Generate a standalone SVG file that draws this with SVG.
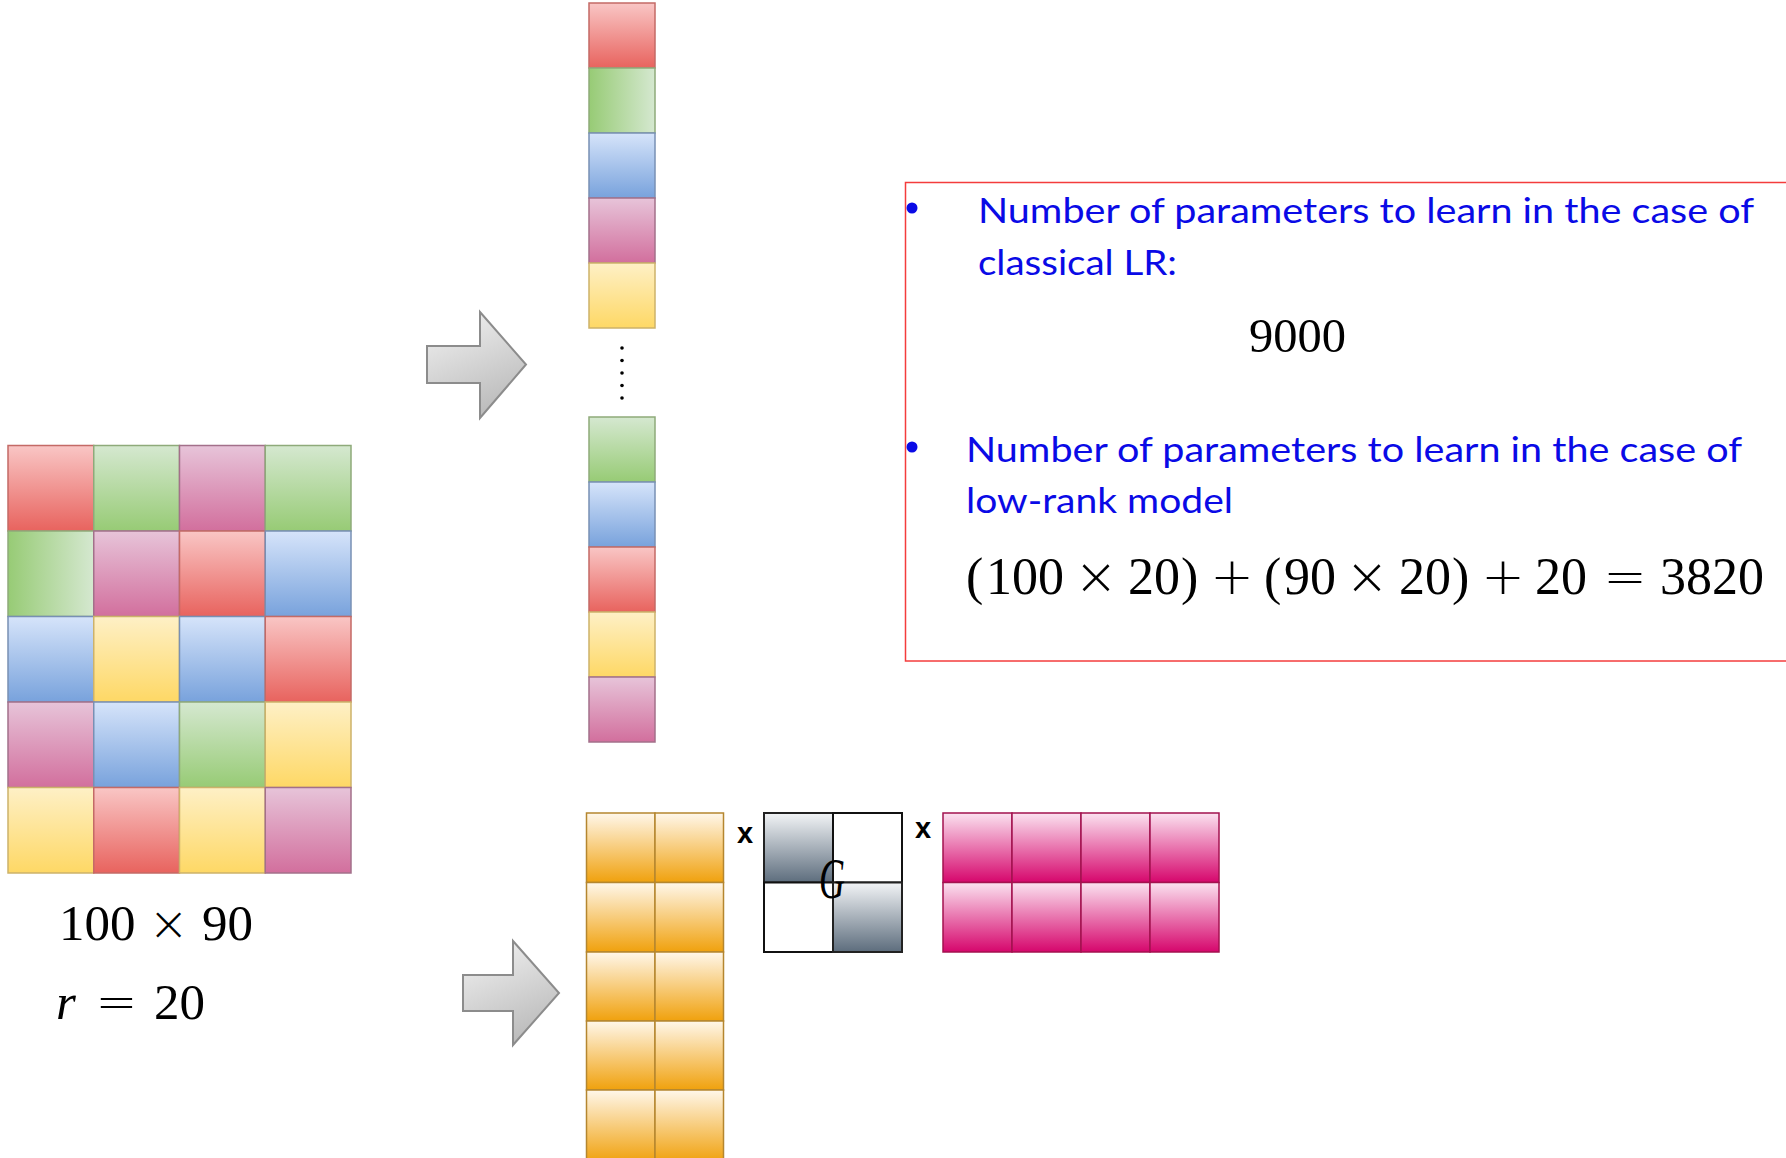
<svg xmlns="http://www.w3.org/2000/svg" width="1786" height="1158" viewBox="0 0 1786 1158">
<defs>
<linearGradient id="gRed" x1="0" y1="0" x2="0" y2="1"><stop offset="0" stop-color="#f9c6c5"/><stop offset="1" stop-color="#e8635e"/></linearGradient>
<linearGradient id="gGreen" x1="0" y1="0" x2="0" y2="1"><stop offset="0" stop-color="#d5e8d0"/><stop offset="1" stop-color="#97cb75"/></linearGradient>
<linearGradient id="gGreenH" x1="0" y1="0" x2="1" y2="0"><stop offset="0" stop-color="#97cb75"/><stop offset="1" stop-color="#d5e8d0"/></linearGradient>
<linearGradient id="gPink" x1="0" y1="0" x2="0" y2="1"><stop offset="0" stop-color="#e7c4d9"/><stop offset="1" stop-color="#d26f9d"/></linearGradient>
<linearGradient id="gBlue" x1="0" y1="0" x2="0" y2="1"><stop offset="0" stop-color="#d6e4fa"/><stop offset="1" stop-color="#78a2dc"/></linearGradient>
<linearGradient id="gYellow" x1="0" y1="0" x2="0" y2="1"><stop offset="0" stop-color="#fef0c6"/><stop offset="1" stop-color="#fed865"/></linearGradient>
<linearGradient id="gOrange" x1="0" y1="0" x2="0" y2="1"><stop offset="0" stop-color="#fff7ea"/><stop offset="1" stop-color="#f0a10d"/></linearGradient>
<linearGradient id="gMag" x1="0" y1="0" x2="0" y2="1"><stop offset="0" stop-color="#fbe2f0"/><stop offset="1" stop-color="#d6066c"/></linearGradient>
<linearGradient id="gGray" x1="0" y1="0" x2="0" y2="1"><stop offset="0" stop-color="#f2f4f6"/><stop offset="1" stop-color="#5d6d7d"/></linearGradient>
<linearGradient id="gArrow" x1="0" y1="0" x2="0.4" y2="1"><stop offset="0" stop-color="#f4f4f4"/><stop offset="1" stop-color="#bdbdbd"/></linearGradient>
</defs>
<style>
.red{fill:url(#gRed);stroke:#c46a66;stroke-width:1.5}
.green{fill:url(#gGreen);stroke:#8eaa7a;stroke-width:1.5}
.greenh{fill:url(#gGreenH);stroke:#8eaa7a;stroke-width:1.5}
.pink{fill:url(#gPink);stroke:#a3708a;stroke-width:1.5}
.blue{fill:url(#gBlue);stroke:#7890b4;stroke-width:1.5}
.yellow{fill:url(#gYellow);stroke:#cdb26a;stroke-width:1.5}
.orange{fill:url(#gOrange);stroke:#b5862f;stroke-width:1.5}
.mag{fill:url(#gMag);stroke:#a3124f;stroke-width:1.5}
.gray{fill:url(#gGray);stroke:#222;stroke-width:2}
.white{fill:#fff;stroke:#111;stroke-width:2}
.arrow{fill:url(#gArrow);stroke:#8c8c8c;stroke-width:2}
.math{font-family:"Liberation Serif","DejaVu Serif",serif;fill:#000}
.mop{font-family:"DejaVu Sans","Liberation Sans",sans-serif;font-weight:200;fill:#000}
.blue-t{font-family:Lato,"Open Sans",sans-serif;font-size:34px;fill:#0a0ae6}
.op{font-family:"Liberation Sans",Arial,sans-serif;font-weight:bold;font-size:29px;fill:#000}
</style>

<g id="matrix-grid">
<rect class="red" x="8" y="445.5" width="85.75" height="85.5"/>
<rect class="green" x="93.75" y="445.5" width="85.75" height="85.5"/>
<rect class="pink" x="179.5" y="445.5" width="85.75" height="85.5"/>
<rect class="green" x="265.25" y="445.5" width="85.75" height="85.5"/>
<rect class="greenh" x="8" y="531" width="85.75" height="85.5"/>
<rect class="pink" x="93.75" y="531" width="85.75" height="85.5"/>
<rect class="red" x="179.5" y="531" width="85.75" height="85.5"/>
<rect class="blue" x="265.25" y="531" width="85.75" height="85.5"/>
<rect class="blue" x="8" y="616.5" width="85.75" height="85.5"/>
<rect class="yellow" x="93.75" y="616.5" width="85.75" height="85.5"/>
<rect class="blue" x="179.5" y="616.5" width="85.75" height="85.5"/>
<rect class="red" x="265.25" y="616.5" width="85.75" height="85.5"/>
<rect class="pink" x="8" y="702" width="85.75" height="85.5"/>
<rect class="blue" x="93.75" y="702" width="85.75" height="85.5"/>
<rect class="green" x="179.5" y="702" width="85.75" height="85.5"/>
<rect class="yellow" x="265.25" y="702" width="85.75" height="85.5"/>
<rect class="yellow" x="8" y="787.5" width="85.75" height="85.5"/>
<rect class="red" x="93.75" y="787.5" width="85.75" height="85.5"/>
<rect class="yellow" x="179.5" y="787.5" width="85.75" height="85.5"/>
<rect class="pink" x="265.25" y="787.5" width="85.75" height="85.5"/>
</g>

<g id="grid-labels">
<text class="math" font-size="51" x="59" y="940">100</text>
<text class="mop" font-size="48" x="168.5" y="940" text-anchor="middle">×</text>
<text class="math" font-size="51" x="202" y="940">90</text>
<text class="math" font-size="51" font-style="italic" x="56" y="1019">r</text>
<text class="mop" font-size="50" x="116.5" y="1019" text-anchor="middle">=</text>
<text class="math" font-size="51" x="154" y="1019">20</text>
</g>

<g id="column-vector">
<rect class="red" x="589" y="3" width="66" height="65"/>
<rect class="greenh" x="589" y="68" width="66" height="65"/>
<rect class="blue" x="589" y="133" width="66" height="65"/>
<rect class="pink" x="589" y="198" width="66" height="65"/>
<rect class="yellow" x="589" y="263" width="66" height="65"/>
<g fill="#000">
<circle cx="622" cy="348" r="1.8"/>
<circle cx="622" cy="360.5" r="1.8"/>
<circle cx="622" cy="373" r="1.8"/>
<circle cx="622" cy="385.5" r="1.8"/>
<circle cx="622" cy="398" r="1.8"/>
</g>
<rect class="green" x="589" y="417" width="66" height="65"/>
<rect class="blue" x="589" y="482" width="66" height="65"/>
<rect class="red" x="589" y="547" width="66" height="65"/>
<rect class="yellow" x="589" y="612" width="66" height="65"/>
<rect class="pink" x="589" y="677" width="66" height="65"/>
</g>

<g id="connectors">
<polygon class="arrow" points="427,346 480,346 480,312 526,364.5 480,418 480,383 427,383"/>
<polygon class="arrow" points="463,975 513,975 513,941 559,993 513,1045 513,1011 463,1011"/>
</g>

<g id="factor-U">
<rect class="orange" x="586.5" y="813" width="68.5" height="69.5"/>
<rect class="orange" x="655" y="813" width="68.5" height="69.5"/>
<rect class="orange" x="586.5" y="882.5" width="68.5" height="69.5"/>
<rect class="orange" x="655" y="882.5" width="68.5" height="69.5"/>
<rect class="orange" x="586.5" y="952" width="68.5" height="69"/>
<rect class="orange" x="655" y="952" width="68.5" height="69"/>
<rect class="orange" x="586.5" y="1021" width="68.5" height="69"/>
<rect class="orange" x="655" y="1021" width="68.5" height="69"/>
<rect class="orange" x="586.5" y="1090" width="68.5" height="72"/>
<rect class="orange" x="655" y="1090" width="68.5" height="72"/>
</g>

<text class="op" x="745" y="843" text-anchor="middle">x</text>

<g id="core-G">
<rect class="gray" x="764" y="813" width="69" height="69.5"/>
<rect class="white" x="833" y="813" width="69" height="69.5"/>
<rect class="white" x="764" y="882.5" width="69" height="69.5"/>
<rect class="gray" x="833" y="882.5" width="69" height="69.5"/>
<text class="math" font-size="58" font-style="italic" transform="translate(832,898) scale(0.62,1)" text-anchor="middle">G</text>
</g>

<text class="op" x="923" y="838" text-anchor="middle">x</text>

<g id="factor-V">
<rect class="mag" x="943" y="813" width="69" height="69.5"/>
<rect class="mag" x="1012" y="813" width="69" height="69.5"/>
<rect class="mag" x="1081" y="813" width="69" height="69.5"/>
<rect class="mag" x="1150" y="813" width="69" height="69.5"/>
<rect class="mag" x="943" y="882.5" width="69" height="69.5"/>
<rect class="mag" x="1012" y="882.5" width="69" height="69.5"/>
<rect class="mag" x="1081" y="882.5" width="69" height="69.5"/>
<rect class="mag" x="1150" y="882.5" width="69" height="69.5"/>
</g>

<g id="info-box">
<rect x="905.5" y="182.5" width="900" height="478.5" fill="none" stroke="#f43c3c" stroke-width="1.5"/>
<circle cx="912" cy="208" r="5.5" fill="#0a0ae6"/>
<text class="blue-t" x="978" y="223" textLength="776" lengthAdjust="spacingAndGlyphs">Number of parameters to learn in the case of</text>
<text class="blue-t" x="978" y="275" textLength="199" lengthAdjust="spacingAndGlyphs">classical LR:</text>
<text class="math" font-size="48" x="1249" y="352" textLength="97" lengthAdjust="spacingAndGlyphs">9000</text>
<circle cx="912" cy="447" r="5.5" fill="#0a0ae6"/>
<text class="blue-t" x="966" y="462" textLength="776" lengthAdjust="spacingAndGlyphs">Number of parameters to learn in the case of</text>
<text class="blue-t" x="966" y="513" textLength="267" lengthAdjust="spacingAndGlyphs">low-rank model</text>
<g class="math" font-size="52">
<text x="966" y="594">(</text>
<text x="986" y="594">100</text>
<text class="mop" x="1096" y="594" text-anchor="middle">×</text>
<text x="1128" y="594">20</text>
<text x="1181" y="594">)</text>
<text class="mop" x="1232" y="594" text-anchor="middle">+</text>
<text x="1264" y="594">(</text>
<text x="1284" y="594">90</text>
<text class="mop" x="1367" y="594" text-anchor="middle">×</text>
<text x="1399" y="594">20</text>
<text x="1452" y="594">)</text>
<text class="mop" x="1503" y="594" text-anchor="middle">+</text>
<text x="1535" y="594">20</text>
<text class="mop" x="1625" y="594" text-anchor="middle">=</text>
<text x="1660" y="594">3820</text>
</g>
</g>
</svg>
